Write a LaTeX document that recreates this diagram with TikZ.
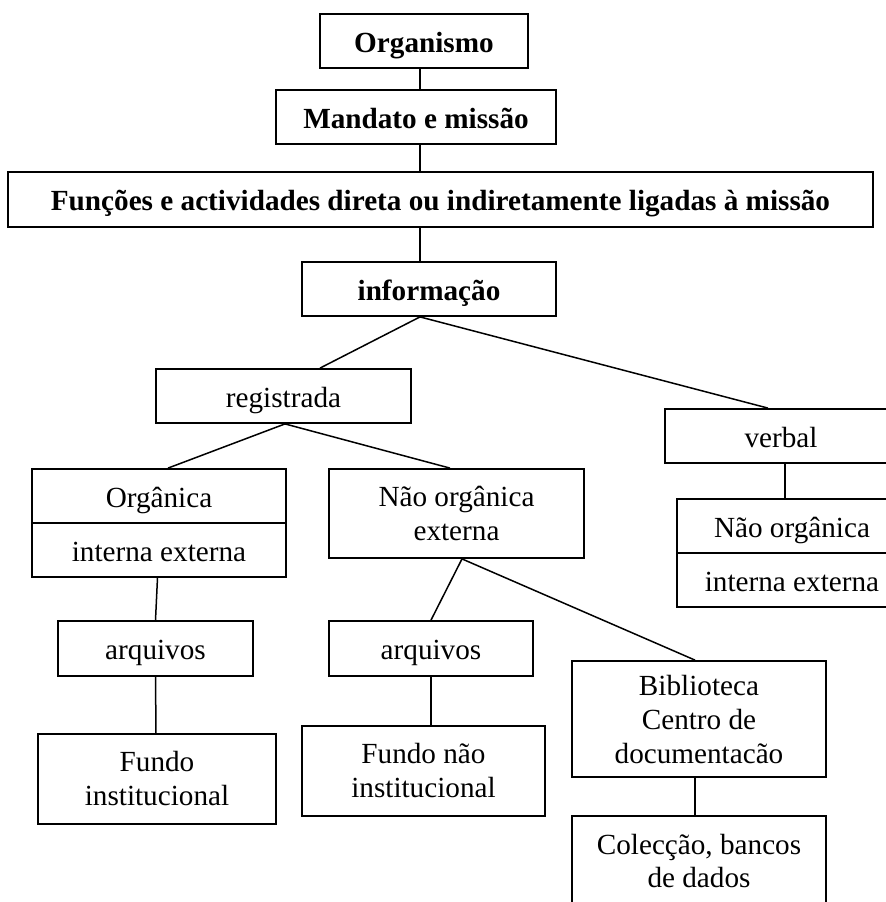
\documentclass[tikz,border=0pt]{standalone}
\usepackage{fontspec}
\setmainfont{Liberation Serif}
\usetikzlibrary{shapes,arrows}
\tikzstyle{box} = [rectangle, draw, line width=0.9pt, inner sep=0pt, align=center, font=\fontsize{14.6}{17}\selectfont]
\tikzstyle{one} = [box, text height=12pt, text depth=1pt]
\tikzstyle{title} = [one, font=\fontsize{14.6}{17}\selectfont\bfseries]
\tikzstyle{line} = [draw, line width=0.75pt]

\begin{document}
\begin{tikzpicture}[x=0.5pt, y=-0.5pt, node distance=27pt, auto]
					\clip (0,0) rectangle (886,902);
					\node[title, minimum width=104pt, minimum height=27pt] (org) at (424,41) {Organismo};
					\node[title, minimum width=140pt, minimum height=27pt] (mandato) at (416,117) {Mandato e missão};
					\node[title, minimum width=432.5pt, minimum height=27.5pt] (funcoes) at (440.5,199.5) {Funções e actividades direta ou indiretamente ligadas à missão};
					\node[title, minimum width=127pt, minimum height=27pt] (info) at (429,289) {informação};
					\node[one, minimum width=127.5pt, minimum height=27pt] (registrada) at (283.5,396) {registrada};
					\node[one, minimum width=116pt, minimum height=27pt] (verbal) at (781,436) {verbal};
					\node[one, minimum width=127pt, minimum height=27pt] (organica) at (159,496) {Orgânica};
					\node[one, below of=organica, minimum width=127pt, minimum height=27pt] (organicaie) {interna externa};
					\node[box, minimum width=127.5pt, minimum height=44.5pt] (naoorg) at (456.5,513.5) {Não orgânica\\externa};
					\node[one, minimum width=115pt, minimum height=27pt] (verbalno) at (792,526) {Não orgânica};
					\node[one, below of=verbalno, minimum width=115pt, minimum height=27pt] (verbalie) {interna externa};
					\node[one, minimum width=97.5pt, minimum height=27.5pt] (arqa) at (155.5,648.5) {arquivos};
					\node[one, minimum width=102pt, minimum height=27.5pt] (arqb) at (431,648.5) {arquivos};
					\node[box, text depth=0pt, minimum width=127pt, minimum height=58pt] (biblio) at (699,719) {Biblioteca\\Centro de\\documentacão};
					\node[box, minimum width=119pt, minimum height=45pt] (fundoa) at (157,779) {Fundo\\institucional};
					\node[box, minimum width=121.5pt, minimum height=45pt] (fundob) at (423.5,771) {Fundo não\\institucional};
					\node[box, minimum width=127pt, minimum height=45pt] (colecao) at (699,861) {Colecção, bancos\\de dados};

					\path[line] ([xshift=-2pt]org.south) -- ([xshift=2pt]mandato.north);
					\path[line] ([xshift=2pt]mandato.south) -- ([xshift=-10.25pt]funcoes.north);
					\path[line] ([xshift=-10.25pt]funcoes.south) -- ([xshift=-4.5pt]info.north);
					\path[line] ([xshift=-4.5pt]info.south) -- ([xshift=18.25pt]registrada.north);
					\path[line] ([xshift=-4.5pt]info.south) -- ([xshift=-6.5pt]verbal.north);
					\path[line] ([xshift=0.75pt]registrada.south) -- ([xshift=4.5pt]organica.north);
					\path[line] ([xshift=0.75pt]registrada.south) -- ([xshift=-3.25pt]naoorg.north);
					\path[line] ([xshift=-0.75pt]organicaie.south) -- (arqa.north);
					\path[line] (arqa.south) -- ([xshift=-0.5pt]fundoa.north);
					\path[line] ([xshift=2.75pt]naoorg.south) -- (arqb.north);
					\path[line] ([xshift=2.75pt]naoorg.south) -- ([xshift=-2pt]biblio.north);
					\path[line] (arqb.south) -- ([xshift=3.75pt]fundob.north);
					\path[line] ([xshift=2pt]verbal.south) -- ([xshift=-3.5pt]verbalno.north);
					\path[line] ([xshift=-2pt]biblio.south) -- ([xshift=-2pt]colecao.north);
				\end{tikzpicture}
\end{document}
